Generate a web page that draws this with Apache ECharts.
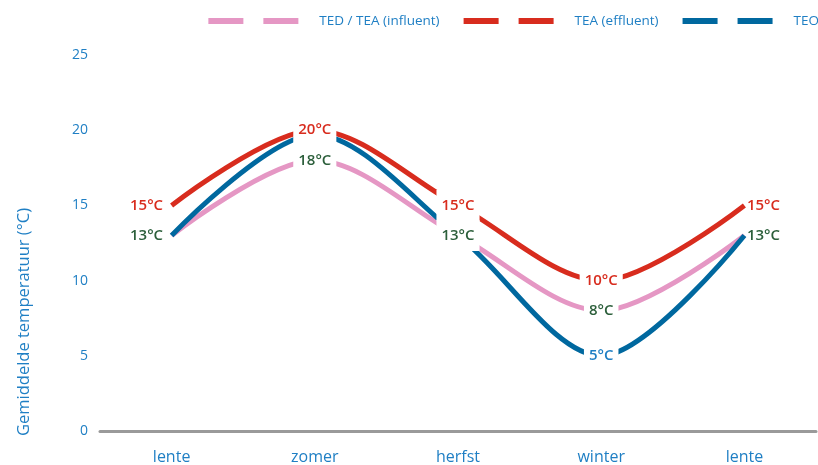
<!DOCTYPE html>
<html>
<head>
<meta charset="utf-8">
<script src="https://cdn.jsdelivr.net/npm/echarts@6/dist/echarts.min.js"></script>
<style>
  html, body { margin: 0; padding: 0; background: #fff; }
  #chart { width: 818px; height: 465px; }
</style>
</head>
<body>
<div id="chart"></div>
<script>
const seasons = ['lente', 'zomer', 'herfst', 'winter', 'lente']
const influent = [13, 18, 13, 8, 13]
const effluent = [15, 20, 15, 10, 15]
const teo = [13, 19.7, 13, 5, 13]
const yTicks = [0, 5, 10, 15, 20, 25]

const blueText = '#1f7fc4'
const green = '#2c5f3b'
const font = 'Open Sans'

// label per point: left at start, right at end, centred on the curve in between
const makeLabel = (i, n, color, show) => {
  const edge = i === 0 || i === n - 1
  return {
    show: show,
    position: i === 0 ? 'left' : (i === n - 1 ? 'right' : 'inside'),
    distance: i === 0 ? 8 : 2,
    formatter: (p) => p.value + '°C',
    color: color,
    fontFamily: font,
    fontSize: 15,
    fontWeight: 600,
    backgroundColor: edge ? 'transparent' : '#fff',
    padding: edge ? 0 : [8, 5]
  }
}

const lineSeries = (name, color, values) => ({
  name: name,
  type: 'line',
  smooth: 0.32,
  symbol: 'none',
  lineStyle: { width: 5, color: color },
  itemStyle: { color: color },
  emphasis: { disabled: true },
  z: 2,
  data: values
})

// invisible copy on top that only carries the labels, so their white
// backgrounds cut through every line
const labelSeries = (name, values, labelColor, showAt) => ({
  name: name,
  type: 'line',
  symbol: 'circle',
  symbolSize: 1,
  showSymbol: true,
  silent: true,
  lineStyle: { opacity: 0 },
  itemStyle: { color: 'transparent' },
  emphasis: { disabled: true },
  labelLayout: { hideOverlap: false },
  z: 5,
  data: values.map((v, i) => ({
    value: v,
    label: makeLabel(i, values.length, labelColor, showAt(i))
  }))
})

const chart = echarts.init(document.getElementById('chart'))
chart.setOption({
  animation: false,
  textStyle: { fontFamily: font },
  grid: { left: 100, right: 2, top: 55, bottom: 34 },
  legend: {
    right: -1,
    top: 14,
    padding: 0,
    itemWidth: 90,
    itemHeight: 6,
    itemGap: 24,
    icon: 'path://M0,0H35V6H0Z M55,0H90V6H55Z',
    textStyle: { color: blueText, fontSize: 13.5, fontFamily: font, padding: [0, 0, 0, 16] },
    data: ['TED / TEA (influent)', 'TEA (effluent)', 'TEO']
  },
  xAxis: {
    type: 'category',
    data: seasons,
    boundaryGap: true,
    axisLine: { lineStyle: { color: '#9a9a9a', width: 3 } },
    axisTick: { show: false },
    axisLabel: { color: blueText, fontSize: 16, margin: 18, fontFamily: font }
  },
  yAxis: {
    type: 'value',
    min: yTicks[0],
    max: yTicks[yTicks.length - 1],
    interval: 5,
    axisLine: { show: false },
    axisTick: { show: false },
    splitLine: { show: false },
    axisLabel: { color: blueText, fontSize: 14, margin: 12, fontFamily: font }
  },
  graphic: [{
    type: 'text',
    x: 24,
    y: 322,
    rotation: Math.PI / 2,
    style: {
      text: 'Gemiddelde temperatuur (°C)',
      fill: blueText,
      font: '16.5px "Open Sans"',
      textAlign: 'center',
      textVerticalAlign: 'middle'
    }
  }],
  series: [
    lineSeries('TED / TEA (influent)', '#e597c4', influent),
    lineSeries('TEA (effluent)', '#d82c1e', effluent),
    lineSeries('TEO', '#00689f', teo),
    labelSeries('TED / TEA (influent)', influent, green, () => true),
    labelSeries('TEA (effluent)', effluent, '#d82c1e', () => true),
    labelSeries('TEO', teo, blueText, (i) => i === 3)
  ]
})
</script>
</body>
</html>
